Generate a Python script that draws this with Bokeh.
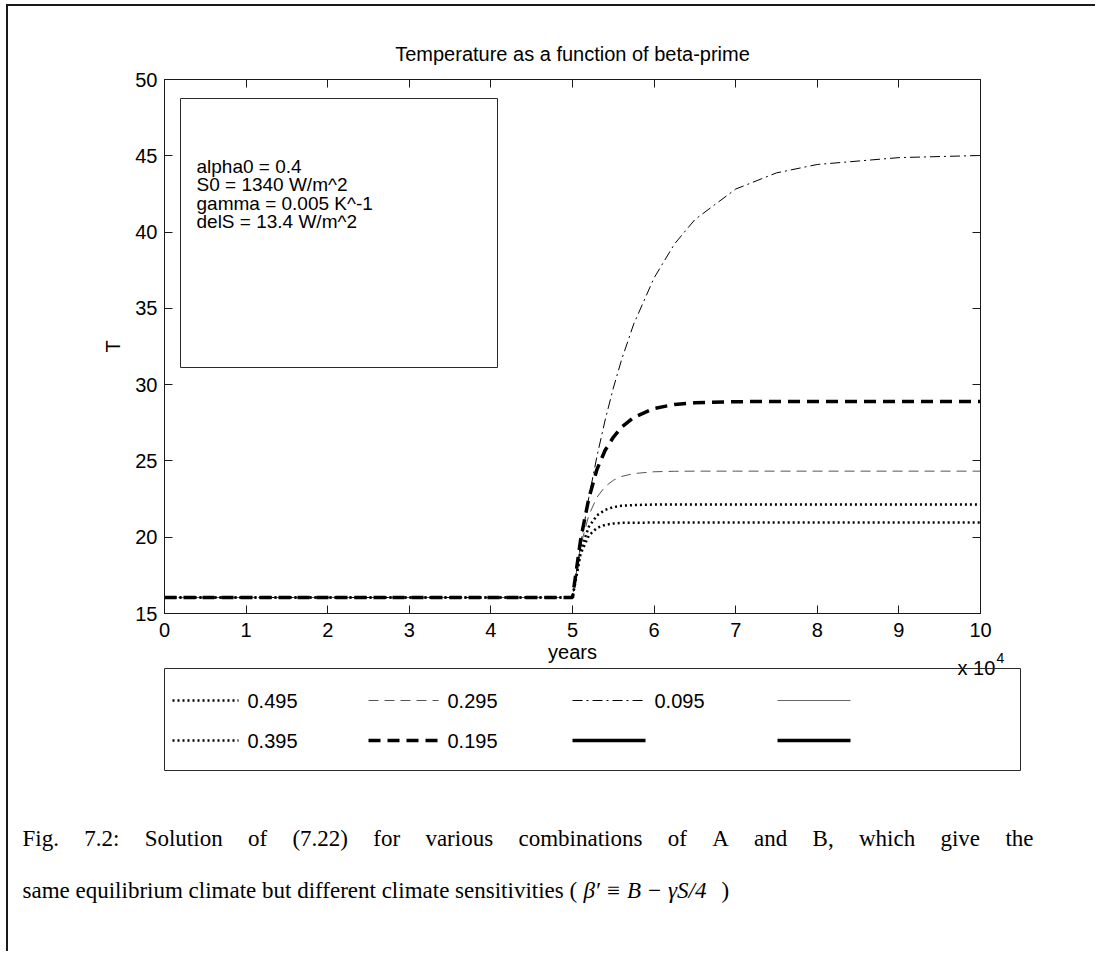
from bokeh.plotting import figure
from bokeh.models import Range1d, LinearAxis, BoxAnnotation, Label, FixedTicker
from bokeh.layouts import column
from bokeh.embed import file_html
from bokeh.resources import INLINE
from bokeh.core.properties import value

# ---------------- data ----------------
years_e4 = [0, 5, 5.1, 5.2, 5.3, 5.4, 5.5, 5.6, 5.75, 6, 6.25, 6.5, 7, 7.5, 8, 9, 10]
T_0495 = [16.05, 16.05, 18.92, 20.11, 20.61, 20.81, 20.90, 20.94, 20.95, 20.96, 20.96, 20.96, 20.96, 20.96, 20.96, 20.96, 20.96]
T_0395 = [16.05, 16.05, 19.16, 20.68, 21.43, 21.79, 21.97, 22.06, 22.11, 22.14, 22.14, 22.14, 22.14, 22.14, 22.14, 22.14, 22.14]
T_0295 = [16.05, 16.05, 19.44, 21.44, 22.62, 23.32, 23.73, 23.98, 24.17, 24.29, 24.32, 24.33, 24.33, 24.33, 24.33, 24.33, 24.33]
T_0195 = [16.05, 16.05, 19.85, 22.55, 24.45, 25.70, 26.55, 27.20, 27.85, 28.44, 28.70, 28.81, 28.88, 28.90, 28.90, 28.90, 28.90]
T_0095 = [16.05, 16.05, 19.54, 22.60, 25.31, 27.68, 29.77, 31.61, 33.97, 37.00, 39.22, 40.82, 42.82, 43.88, 44.43, 44.88, 45.02]

beta_labels = ["0.495", "0.395", "0.295", "0.195", "0.095"]
x_ticks = [0, 1, 2, 3, 4, 5, 6, 7, 8, 9, 10]
y_ticks = [15, 20, 25, 30, 35, 40, 45, 50]
x_start, x_end = 0, 10
y_start, y_end = 15, 50

title_text = "Temperature as a function of beta-prime"
x_label = "years"
y_label = "T"
x_mult = "x 10"
x_mult_exp = "4"
box_lines = ["alpha0 = 0.4", "S0 = 1340 W/m^2", "gamma = 0.005 K^-1", "delS = 13.4 W/m^2"]
caption_1 = "Fig. 7.2: Solution of (7.22) for various combinations of A and B, which give the"
caption_2 = "same equilibrium climate but different climate sensitivities ("
caption_2_math = "\u03b2\u2032 \u2261 B \u2212 \u03b3S/4"
caption_2_close = ")"

# ---------------- styles ----------------
SANS = "Liberation Sans"
SERIF = "Liberation Serif"
INK = "#1a1a1a"
styles = {
    "0.495": dict(line_color="black", line_width=2.5, line_dash="2 3"),
    "0.395": dict(line_color="black", line_width=2.5, line_dash="2 3"),
    "0.295": dict(line_color="#555555", line_width=1, line_dash="10 6"),
    "0.195": dict(line_color="black", line_width=3.5, line_dash="12 7"),
    "0.095": dict(line_color="black", line_width=1, line_dash="10 4 2 4"),
    "thin_solid": dict(line_color="#666666", line_width=1.2),
    "thick_solid": dict(line_color="black", line_width=3.5),
}

# Times / Liberation Serif advance widths (1/1000 em) for laying out the caption words
TIMES_W = {" ": 250, "(": 333, ")": 333, ",": 250, ".": 250, "/": 278, "2": 500, "4": 500,
           "7": 500, ":": 278, "A": 722, "B": 667, "F": 556, "S": 556, "a": 444, "b": 500,
           "c": 444, "d": 500, "e": 444, "f": 333, "g": 500, "h": 500, "i": 278, "l": 278,
           "m": 778, "n": 500, "o": 500, "q": 500, "r": 333, "s": 389, "t": 278, "u": 500,
           "v": 500, "w": 722, "y": 500}


def text_w(s, fs):
    return sum(TIMES_W.get(ch, 520) for ch in s) * fs / 1000.0


# ---------------- page geometry (page pixels) ----------------
X0, Y0 = 8, 6            # top-left of the content (inside the page frame border)
W = 1087
H1 = 640                 # upper figure: page y 6 .. 646
Y2 = 634                 # lower figure starts here (overlaps the upper one, transparent)
H2 = 951 - Y2
FL, FR, FT, FB = 164, 980, 79, 613   # axes box in page pixels


def dx(px):
    return x_start + (px - FL) / (FR - FL) * (x_end - x_start)


def dy(py):
    return y_start + (FB - py) / (FB - FT) * (y_end - y_start)


p1 = figure(width=W, height=H1,
            x_range=Range1d(x_start, x_end), y_range=Range1d(y_start, y_end),
            output_backend="svg", toolbar_location=None, tools="",
            min_border_left=FL - X0, min_border_right=X0 + W - FR,
            min_border_top=FT - Y0, min_border_bottom=Y0 + H1 - FB,
            background_fill_color="white", border_fill_color="white",
            outline_line_color=INK, outline_line_width=1)
p1.frame_align = False
p1.xgrid.visible = False
p1.ygrid.visible = False

p1.title.text = title_text
p1.title.align = "center"
p1.title.text_font = SANS
p1.title.text_font_size = "20px"
p1.title.text_font_style = "normal"
p1.title.text_color = "black"
p1.title.standoff = 30

for ax in (p1.xaxis[0], p1.yaxis[0]):
    ax.axis_line_color = INK
    ax.major_tick_line_color = INK
    ax.major_tick_in = 8
    ax.major_tick_out = 0
    ax.minor_tick_line_color = None
    ax.major_label_text_font = SANS
    ax.major_label_text_font_size = "20px"
    ax.major_label_text_color = "black"
p1.xaxis[0].ticker = FixedTicker(ticks=x_ticks)
p1.yaxis[0].ticker = FixedTicker(ticks=y_ticks)
p1.xaxis[0].major_label_standoff = 9
p1.yaxis[0].major_label_standoff = 7
p1.yaxis[0].axis_label = y_label
p1.yaxis[0].axis_label_text_font = SANS
p1.yaxis[0].axis_label_text_font_size = "20px"
p1.yaxis[0].axis_label_text_font_style = "normal"
p1.yaxis[0].axis_label_text_color = "black"
p1.yaxis[0].axis_label_standoff = 8

ax_top = LinearAxis(ticker=FixedTicker(ticks=x_ticks), major_tick_in=8, major_tick_out=0,
                    minor_tick_line_color=None, axis_line_color=INK, major_tick_line_color=INK,
                    major_label_text_color=None, major_label_text_font_size="1px",
                    major_label_standoff=0)
ax_right = LinearAxis(ticker=FixedTicker(ticks=y_ticks), major_tick_in=8, major_tick_out=0,
                      minor_tick_line_color=None, axis_line_color=INK, major_tick_line_color=INK,
                      major_label_text_color=None, major_label_text_font_size="1px",
                      major_label_standoff=0)
p1.add_layout(ax_top, "above")
p1.add_layout(ax_right, "right")

series = {"0.495": T_0495, "0.395": T_0395, "0.295": T_0295, "0.195": T_0195, "0.095": T_0095}
for lab in ["0.095", "0.295", "0.195", "0.395", "0.495"]:
    p1.line(years_e4, series[lab], **styles[lab])

# text box inside the axes
p1.add_layout(BoxAnnotation(left=dx(180), right=dx(497), top=dy(98), bottom=dy(367),
                            fill_color="white", fill_alpha=1.0, line_color="#2a2a2a",
                            line_alpha=1.0, line_width=1))
for i, t in enumerate(box_lines):
    p1.add_layout(Label(x=dx(196), y=dy(166 + i * 18.4), text=t, text_font=SANS,
                        text_font_size="19px", text_baseline="middle", text_align="left",
                        text_color="black"))

# ---------------- lower figure: x label, legend, caption ----------------
p2 = figure(width=W, height=H2, x_range=Range1d(X0, X0 + W), y_range=Range1d(Y2 + H2, Y2),
            output_backend="svg", toolbar_location=None, tools="",
            x_axis_type=None, y_axis_type=None, min_border=0,
            background_fill_color=None, border_fill_color=None, outline_line_color=None,
            styles={"margin-top": "-%dpx" % (Y0 + H1 - Y2)})
p2.frame_align = False
p2.xgrid.visible = False
p2.ygrid.visible = False

p2.text(x=[(FL + FR) / 2], y=[651], text=[x_label], text_font=value(SANS), text_font_size="20px",
        text_baseline="middle", text_align="center", text_color="black")
p2.text(x=[957], y=[667], text=[x_mult], text_font=value(SANS), text_font_size="20px",
        text_baseline="middle", text_align="left", text_color="black")
p2.text(x=[996], y=[657], text=[x_mult_exp], text_font=value(SANS), text_font_size="14px",
        text_baseline="middle", text_align="left", text_color="black")

LB_L, LB_R, LB_T, LB_B = 164, 1020, 668, 770
p2.quad(left=LB_L, right=LB_R, top=LB_T, bottom=LB_B, fill_color=None,
        line_color="#2a2a2a", line_width=1)

col_x = [172, 368, 572, 777]
row_y = [700, 740]
sample_len = [66, 70, 73, 73]
legend_entries = [
    (0, 0, "0.495", "0.495"), (0, 1, "0.395", "0.395"),
    (1, 0, "0.295", "0.295"), (1, 1, "0.195", "0.195"),
    (2, 0, "0.095", "0.095"), (2, 1, "thick_solid", ""),
    (3, 0, "thin_solid", ""), (3, 1, "thick_solid", ""),
]
for c, r, sty, lab in legend_entries:
    x0 = col_x[c]
    x1 = x0 + sample_len[c]
    p2.line([x0, x1], [row_y[r], row_y[r]], **styles[sty])
    if lab:
        p2.text(x=[x1 + 9], y=[row_y[r]], text=[lab], text_font=value(SANS),
                text_font_size="20px", text_baseline="middle", text_align="left",
                text_color="black")

# caption: first line justified between the margins, second line natural width
CAP_FS = 23
CAP_L, CAP_R = 22, 1033
words = caption_1.split(" ")
widths = [text_w(w_, CAP_FS) for w_ in words]
gap = (CAP_R - CAP_L - sum(widths)) / (len(words) - 1)
xs, xpos = [], CAP_L
for w_ in widths:
    xs.append(xpos)
    xpos += w_ + gap
p2.text(x=xs, y=[838] * len(words), text=words, text_font=value(SERIF),
        text_font_size="%dpx" % CAP_FS, text_baseline="middle", text_align="left",
        text_color="black")

x_math = CAP_L + text_w(caption_2 + " ", CAP_FS)
x_close = x_math + 6.0 * CAP_FS
p2.text(x=[CAP_L], y=[890], text=[caption_2], text_font=value(SERIF),
        text_font_size="%dpx" % CAP_FS, text_baseline="middle", text_align="left",
        text_color="black")
p2.text(x=[x_math], y=[890], text=[caption_2_math], text_font=value(SERIF),
        text_font_size="%dpx" % CAP_FS, text_font_style="italic", text_baseline="middle",
        text_align="left", text_color="black")
p2.text(x=[x_close], y=[890], text=[caption_2_close], text_font=value(SERIF),
        text_font_size="%dpx" % CAP_FS, text_baseline="middle", text_align="left",
        text_color="black")

layout = column(p1, p2, styles={"border-top": "2px solid #1a1a1a",
                                "border-left": "2px solid #1a1a1a",
                                "margin-left": "6px", "margin-top": "4px"})
open("out.html", "w").write(file_html(layout, INLINE))
